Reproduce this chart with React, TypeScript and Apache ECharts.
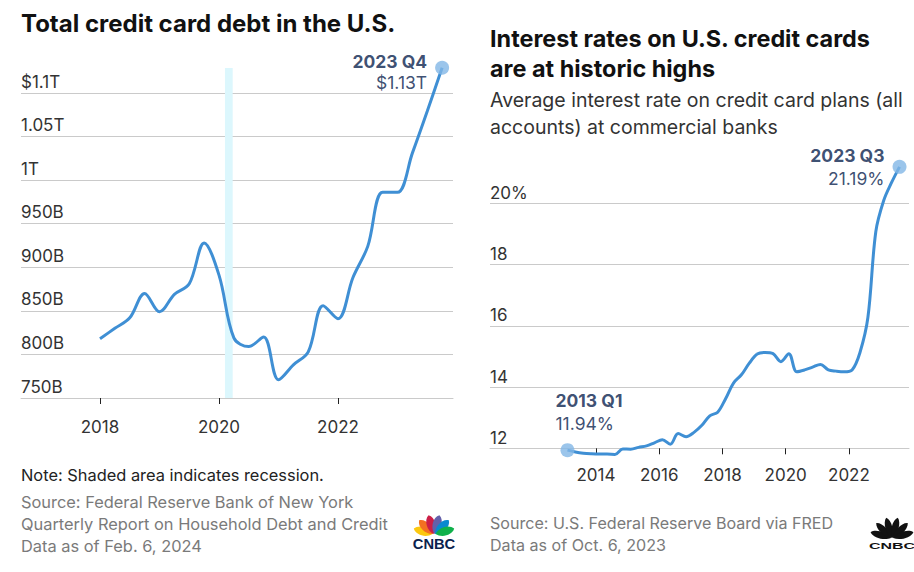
import React, { useEffect, useRef } from 'react';
import * as echarts from 'echarts';

// ---------- DATA ----------
const debtQuarters = [
  '2018 Q1', '2018 Q2', '2018 Q3', '2018 Q4',
  '2019 Q1', '2019 Q2', '2019 Q3', '2019 Q4',
  '2020 Q1', '2020 Q2', '2020 Q3', '2020 Q4',
  '2021 Q1', '2021 Q2', '2021 Q3', '2021 Q4',
  '2022 Q1', '2022 Q2', '2022 Q3', '2022 Q4',
  '2023 Q1', '2023 Q2', '2023 Q3', '2023 Q4',
];
// billions of dollars
const debtValues = [
  818, 830, 842, 870,
  849, 869, 881, 928,
  891, 819, 809, 820,
  771, 788, 803, 856,
  841, 888, 924, 986,
  986, 1031, 1079, 1129,
];
const debtTickValues = [750, 800, 850, 900, 950, 1000, 1050, 1100];
const debtTickLabels = ['750B', '800B', '850B', '900B', '950B', '1T', '1.05T', '$1.1T'];
const debtYearTicks = [2018, 2020, 2022];
const recession = [2020.1, 2020.23];
const recessionTop = 1128.7;

const rateQuarters = [
  '2013 Q1', '2013 Q2', '2013 Q3', '2013 Q4',
  '2014 Q1', '2014 Q2', '2014 Q3', '2014 Q4',
  '2015 Q1', '2015 Q2', '2015 Q3', '2015 Q4',
  '2016 Q1', '2016 Q2', '2016 Q3', '2016 Q4',
  '2017 Q1', '2017 Q2', '2017 Q3', '2017 Q4',
  '2018 Q1', '2018 Q2', '2018 Q3', '2018 Q4',
  '2019 Q1', '2019 Q2', '2019 Q3', '2019 Q4',
  '2020 Q1', '2020 Q2', '2020 Q3', '2020 Q4',
  '2021 Q1', '2021 Q2', '2021 Q3', '2021 Q4',
  '2022 Q1', '2022 Q2', '2022 Q3', '2022 Q4',
  '2023 Q1', '2023 Q2', '2023 Q3',
];
// percent
const rateValues = [
  11.94, 11.88, 11.84, 11.82,
  11.81, 11.81, 11.80, 11.98,
  11.97, 12.03, 12.08, 12.18,
  12.28, 12.13, 12.48, 12.38,
  12.52, 12.75, 13.06, 13.18,
  13.62, 14.13, 14.40, 14.78,
  15.08, 15.13, 15.09, 14.83,
  15.09, 14.50, 14.56, 14.65,
  14.74, 14.56, 14.52, 14.50,
  14.56, 15.13, 16.27, 19.07,
  20.09, 20.68, 21.19,
];
const rateTickValues = [12, 14, 16, 18, 20];
const rateTickLabels = ['12', '14', '16', '18', '20%'];
const rateYearTicks = [2014, 2016, 2018, 2020, 2022];

// ---------- STYLE ----------
const FONT = 'Inter, "Open Sans", sans-serif';
const LINE = '#3f8fd4';
const DOT = '#82b6e6';
const NAVY = '#0a224e';
const GRID = '#cacaca';
const LABEL = '#333333';
const SOURCE = '#7a7a7a';

function quarterToYear(s: string, offset: number) {
  const [y, q] = s.split(' Q');
  return Number(y) + (Number(q) - 1) / 4 + offset;
}

const FEATHER_D = 'M0 0 C-5.6 -5 -6 -16 0 -19.5 C6 -16 5.6 -5 0 0 Z';
let registered = false;
function ensureShapes() {
  if (registered) return;
  echarts.graphic.registerShape('feather', (echarts.graphic as any).extendPath(FEATHER_D, {}));
  registered = true;
}

function peacock(cx: number, by: number, sx: number, sy: number, colors: string[], textColor: string,
  textY: number, textSize: number, textScaleX: number, textScaleY: number) {
  const angles = [-74, -45, -15, 15, 45, 74];
  const els: any[] = angles.map((a, i) => ({
    type: 'feather',
    x: cx + Math.sin((a * Math.PI) / 180) * 1.5 * sx,
    y: by,
    rotation: (-a * Math.PI) / 180,
    scaleX: sx,
    scaleY: sy,
    style: { fill: colors[i] },
  }));
  els.push({
    type: 'text',
    x: cx,
    y: textY,
    scaleX: textScaleX,
    scaleY: textScaleY,
    style: {
      text: 'CNBC',
      fontFamily: '"Liberation Sans", Arial, sans-serif',
      fontWeight: 'bold',
      fontSize: textSize,
      fill: textColor,
      align: 'center',
      verticalAlign: 'middle',
    },
  });
  return els;
}

function txt(x: number, y: number, text: string, size: number, color: string, bold = false, align = 'left') {
  return {
    type: 'text',
    x,
    y,
    style: {
      text,
      fontFamily: FONT,
      fontSize: size,
      fontWeight: bold ? 'bold' : 'normal',
      fill: color,
      align,
      verticalAlign: 'middle',
    },
  };
}

export default function App() {
  const ref = useRef<HTMLDivElement>(null);

  useEffect(() => {
    if (!ref.current) return;
    ensureShapes();
    const chart = echarts.init(ref.current, undefined, { renderer: 'svg' });

    const debtData = debtQuarters.map((q, i) => [quarterToYear(q, 0), debtValues[i]]);
    const rateData = rateQuarters.map((q, i) => [quarterToYear(q, 0.1), rateValues[i]]);
    const lastDebt = debtData.length - 1;
    const lastRate = rateData.length - 1;

    const yLabel = (values: number[], labels: string[]) => (v: number) => {
      const i = values.indexOf(v);
      return i >= 0 ? labels[i] : '';
    };

    const axisLabelBase = {
      color: LABEL,
      fontSize: 17,
      fontFamily: FONT,
    };

    const richLabel = (align: string, lh: number) => ({
      a: { fontFamily: FONT, fontWeight: 'bold', fontSize: 17.5, color: NAVY, lineHeight: lh, align },
      b: { fontFamily: FONT, fontSize: 17.5, color: NAVY, lineHeight: lh, align },
    });

    const option: any = {
      animation: false,
      backgroundColor: '#ffffff',
      grid: [
        { left: 21, top: 93, width: 432, height: 305 },
        { left: 490, top: 203.3, width: 419, height: 245 },
      ],
      xAxis: [
        {
          type: 'value', gridIndex: 0, min: 2016.672, max: 2023.933,
          splitLine: { show: false },
          axisLine: { show: true, lineStyle: { color: GRID } },
          axisTick: { show: true, customValues: debtYearTicks, length: 6, lineStyle: { color: '#222' } },
          axisLabel: { ...axisLabelBase, customValues: debtYearTicks, margin: 20, formatter: (v: number) => String(v) },
        },
        {
          type: 'value', gridIndex: 1, min: 2010.65, max: 2023.9,
          splitLine: { show: false },
          axisLine: { show: true, lineStyle: { color: GRID } },
          axisTick: { show: true, customValues: rateYearTicks, length: 6, lineStyle: { color: '#222' } },
          axisLabel: { ...axisLabelBase, customValues: rateYearTicks, margin: 18, formatter: (v: number) => String(v) },
        },
      ],
      yAxis: [
        {
          type: 'value', gridIndex: 0, min: 750, max: 1100, interval: 50,
          axisLine: { show: false }, axisTick: { show: false },
          splitLine: { lineStyle: { color: GRID } },
          axisLabel: {
            ...axisLabelBase, inside: true, margin: 0, verticalAlign: 'bottom', align: 'left',
            padding: [0, 0, 3, 0], formatter: yLabel(debtTickValues, debtTickLabels),
          },
        },
        {
          type: 'value', gridIndex: 1, min: 12, max: 20, interval: 2,
          axisLine: { show: false }, axisTick: { show: false },
          splitLine: { lineStyle: { color: GRID } },
          axisLabel: {
            ...axisLabelBase, inside: true, margin: 0, verticalAlign: 'bottom', align: 'left',
            padding: [0, 0, 2, 0], formatter: yLabel(rateTickValues, rateTickLabels),
          },
        },
      ],
      series: [
        {
          type: 'line', xAxisIndex: 0, yAxisIndex: 0, data: debtData,
          smooth: 0.35, symbol: 'none', clip: false,
          lineStyle: { color: LINE, width: 3 },
          z: 3,
        },
        {
          type: 'scatter', xAxisIndex: 0, yAxisIndex: 0, data: [debtData[lastDebt]],
          symbolSize: 14, clip: false, itemStyle: { color: DOT }, z: 4,
          label: {
            show: true, position: 'left', distance: 8, offset: [0, 4], align: 'right', color: NAVY,
            formatter: () => `{a|${debtQuarters[lastDebt]}}\n{b|$${(debtValues[lastDebt] / 1000).toFixed(2)}T}`,
            rich: richLabel('right', 21),
          },
        },
        {
          type: 'line', xAxisIndex: 1, yAxisIndex: 1, data: rateData,
          smooth: 0.35, symbol: 'none', clip: false,
          lineStyle: { color: LINE, width: 3 }, z: 3,
        },
        {
          type: 'scatter', xAxisIndex: 1, yAxisIndex: 1, data: [rateData[lastRate]],
          symbolSize: 14, clip: false, itemStyle: { color: DOT }, z: 4,
          label: {
            show: true, position: 'left', distance: 8, offset: [0, 0], align: 'right', color: NAVY,
            formatter: () => `{a|${rateQuarters[lastRate]}}\n{b|${rateValues[lastRate].toFixed(2)}%}`,
            rich: richLabel('right', 23),
          },
        },
        {
          type: 'scatter', xAxisIndex: 1, yAxisIndex: 1, data: [rateData[0]],
          symbolSize: 14, clip: false, itemStyle: { color: DOT }, z: 4,
          label: {
            show: true, position: 'top', distance: 8, offset: [-12, 0], align: 'left', color: NAVY,
            formatter: () => `{a|${rateQuarters[0]}}\n{b|${rateValues[0].toFixed(2)}%}`,
            rich: richLabel('left', 23),
          },
        },
      ],
    };

    chart.setOption(option);

    // recession shading, positioned through the chart's own scales
    const p0 = chart.convertToPixel({ gridIndex: 0 }, [recession[0], recessionTop]) as number[];
    const p1 = chart.convertToPixel({ gridIndex: 0 }, [recession[1], debtTickValues[0]]) as number[];

    chart.setOption({
      graphic: [
        {
          type: 'rect', z: 1,
          shape: { x: p0[0], y: p0[1], width: p1[0] - p0[0], height: p1[1] - p0[1] },
          style: { fill: '#dcf7fd' },
        },
        txt(21, 23, 'Total credit card debt in the U.S.', 24, '#111111', true),
        txt(490, 38, 'Interest rates on U.S. credit cards', 23.4, '#111111', true),
        txt(490, 68, 'are at historic highs', 23.4, '#111111', true),
        txt(490, 100, 'Average interest rate on credit card plans (all', 19.5, LABEL),
        txt(490, 127, 'accounts) at commercial banks', 19.5, LABEL),
        txt(21, 475, 'Note: Shaded area indicates recession.', 16.4, '#222222'),
        txt(21, 501.5, 'Source: Federal Reserve Bank of New York', 16.4, SOURCE),
        txt(21, 523.5, 'Quarterly Report on Household Debt and Credit', 16.4, SOURCE),
        txt(21, 545.5, 'Data as of Feb. 6, 2024', 16.4, SOURCE),
        txt(490, 523, 'Source: U.S. Federal Reserve Board via FRED', 16.1, SOURCE),
        txt(490, 545, 'Data as of Oct. 6, 2023', 16.1, SOURCE),
        ...peacock(434, 534, 1, 1, ['#fcc80f', '#f37021', '#cc1f47', '#6460aa', '#0a89d0', '#10b14b'], NAVY, 544, 14, 1.05, 1),
        ...peacock(892, 538, 0.8, 1.08, ['#111', '#111', '#111', '#111', '#111', '#111'], '#111', 546.5, 11, 1.45, 0.75),
      ],
    });

    return () => chart.dispose();
  }, []);

  return (
    <div
      ref={ref}
      style={{ position: 'fixed', left: 0, top: 0, width: 914, height: 572, background: '#fff' }}
    />
  );
}
